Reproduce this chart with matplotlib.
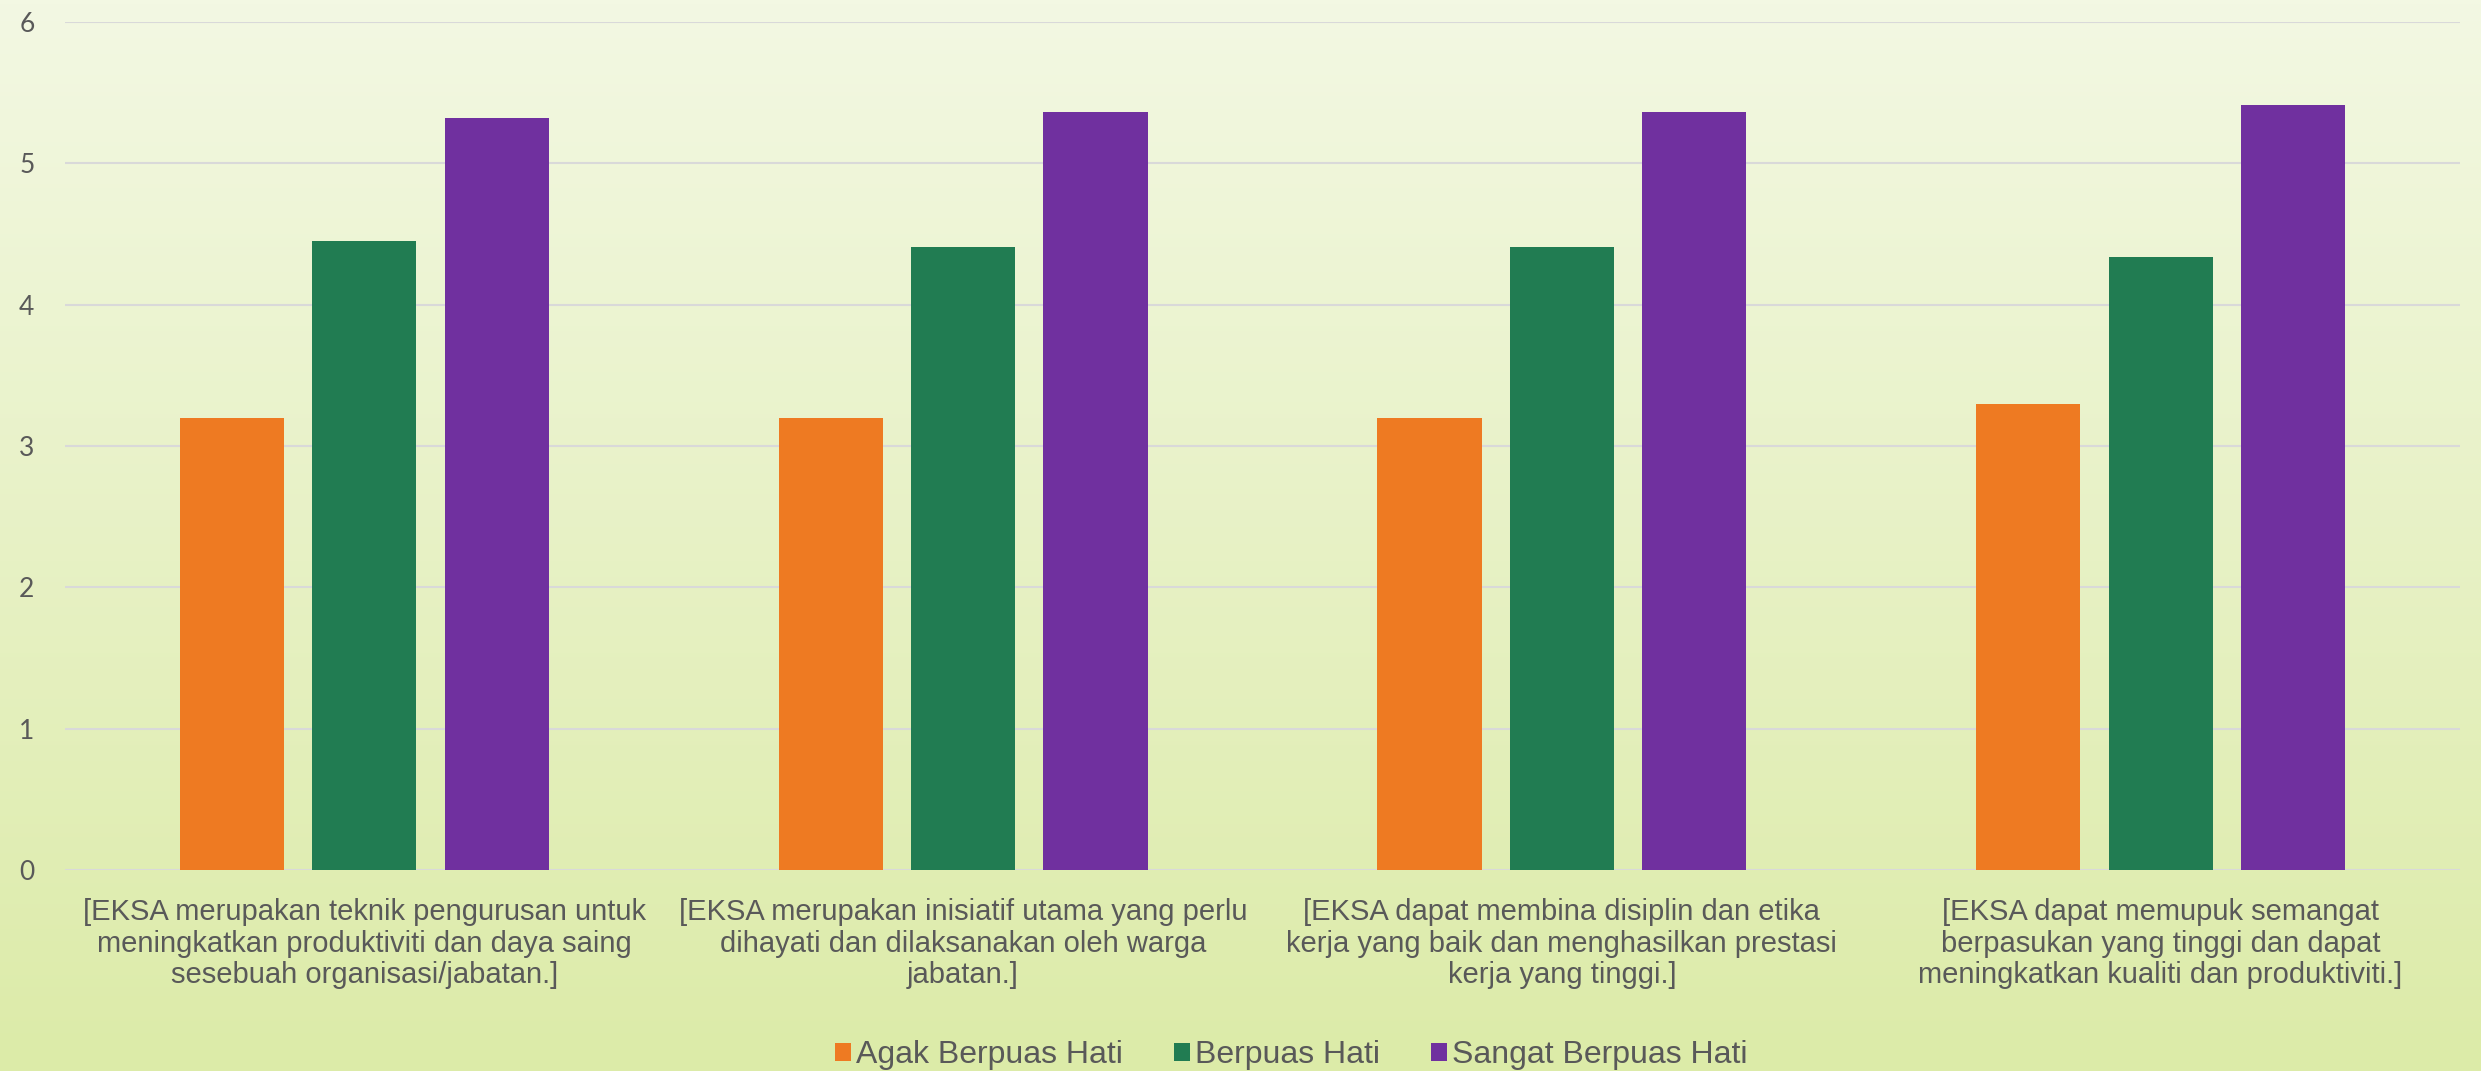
import numpy as np
import matplotlib
matplotlib.use("Agg")
import matplotlib.pyplot as plt
from matplotlib import font_manager
from matplotlib.colors import LinearSegmentedColormap

categories = [
    "[EKSA merupakan teknik pengurusan untuk\nmeningkatkan produktiviti dan daya saing\nsesebuah organisasi/jabatan.]",
    "[EKSA merupakan inisiatif utama yang perlu\ndihayati dan dilaksanakan oleh warga\njabatan.]",
    "[EKSA dapat membina disiplin dan etika\nkerja yang baik dan menghasilkan prestasi\nkerja yang tinggi.]",
    "[EKSA dapat memupuk semangat\nberpasukan yang tinggi dan dapat\nmeningkatkan kualiti dan produktiviti.]",
]
series_names = ["Agak Berpuas Hati", "Berpuas Hati", "Sangat Berpuas Hati"]
agak = [3.2, 3.2, 3.2, 3.3]
berpuas = [4.45, 4.41, 4.41, 4.34]
sangat = [5.32, 5.36, 5.36, 5.41]
y_ticks = [0, 1, 2, 3, 4, 5, 6]

colors = ["#EE7A22", "#217C52", "#70309F"]

names = {f.name for f in font_manager.fontManager.ttflist}
label_font = "Liberation Sans Narrow" if "Liberation Sans Narrow" in names else "Liberation Sans"
tick_font = "Lato" if "Lato" in names else "DejaVu Sans"
text_color = "#595959"

W, H, DPI = 2481, 1071, 100
fig = plt.figure(figsize=(W / DPI, H / DPI), dpi=DPI)

# background gradient
bg = fig.add_axes([0, 0, 1, 1], zorder=-10)
cmap = LinearSegmentedColormap.from_list("bg", ["#DCEBA8", "#F3F8E3"])
grad = np.linspace(0, 1, 256).reshape(-1, 1)
bg.imshow(grad, aspect="auto", cmap=cmap, origin="lower", extent=[0, 1, 0, 1])
bg.set_axis_off()

ax = fig.add_axes([65 / W, 1 - 870 / H, (2460 - 65) / W, (870 - 22) / H])
ax.set_facecolor("none")

x = np.arange(len(categories))
bw = 0.174
off = 0.221
for i, (vals, name) in enumerate(zip([agak, berpuas, sangat], series_names)):
    ax.bar(x + (i - 1) * off, vals, width=bw, color=colors[i], label=name, zorder=3)

ax.set_xlim(-0.5, len(categories) - 0.5)
ax.set_ylim(0, 6)
ax.set_yticks(y_ticks)
ax.set_yticklabels([str(t) for t in y_ticks], fontsize=19, color=text_color, fontfamily=tick_font)
ax.set_xticks(x)
ax.set_xticklabels(categories, fontsize=21, color=text_color, fontfamily=label_font, linespacing=1.17)
ax.tick_params(axis="both", length=0)
ax.tick_params(axis="y", pad=22)
ax.tick_params(axis="x", pad=20)
ax.yaxis.grid(True, color="#D9D9D9", linewidth=1.5, zorder=0)
for s in ax.spines.values():
    s.set_visible(False)

leg = fig.legend(loc="center", bbox_to_anchor=(0.5204, 1 - 1055 / H), ncol=3, frameon=False,
                 prop={"family": label_font, "size": 23}, handlelength=0.5, handleheight=0.5,
                 handletextpad=0.15, columnspacing=1.6)
for t in leg.get_texts():
    t.set_color(text_color)

fig.savefig("out.png", dpi=DPI)
